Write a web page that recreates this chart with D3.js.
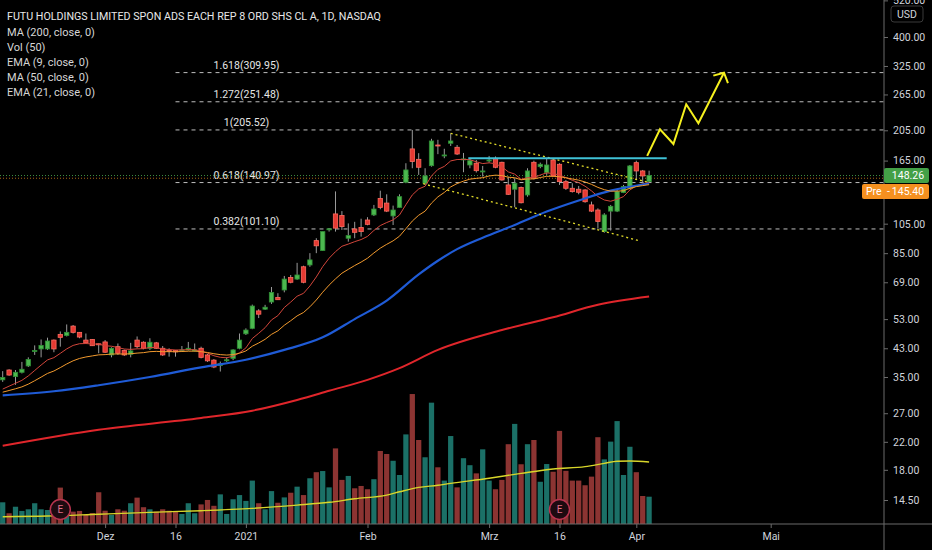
<!DOCTYPE html>
<html>
<head>
<meta charset="utf-8">
<script src="https://cdn.jsdelivr.net/npm/d3@7"></script>
<style>
  html, body { margin: 0; padding: 0; background: #000; }
  svg { display: block; }
  text { font-family: Roboto, "Liberation Sans", Arial, sans-serif; }
</style>
</head>
<body>
<svg width="932" height="550"></svg>
<script>
// daily bars, 2020-11-06 .. 2021-04-06
const open = [34.3, 36.8, 35.1, 36.2, 37.9, 42.0, 42.8, 42.8, 45.6, 47.5,
  47.1, 50.4, 48.2, 45.6, 45.8, 44.4, 45.0, 41.0, 43.5, 42.3,
  41.2, 45.6, 44.9, 43.0, 44.7, 43.0, 42.3, 42.3, 42.4, 42.5,
  42.4, 43.0, 41.0, 39.5, 38.0, 39.5, 40.0, 43.0, 47.7, 49.6,
  56.2, 56.9, 59.9, 61.9, 65.3, 71.4, 70.6, 77.1, 78.1, 93.0,
  86.6, 100.5, 112.6, 111.3, 94.6, 101.1, 102.2, 107.8, 111.8, 125.8,
  121.7, 111.0, 118.0, 141.3, 179.4, 166.5, 140.3, 159.1, 184.5, 170.6,
  186.8, 181.5, 166.0, 159.9, 161.9, 152.1, 164.9, 167.7, 163.0, 138.6,
  134.4, 136.0, 129.0, 163.0, 158.0, 151.5, 165.7, 160.7, 141.9, 135.3,
  134.4, 133.7, 120.1, 115.8, 99.2, 114.9, 114.9, 131.2, 135.3, 162.6,
  153.2, 141.9];
const high = [36.5, 37.0, 36.8, 39.0, 40.3, 43.9, 45.8, 46.4, 45.8, 48.5,
  51.0, 50.8, 48.3, 47.8, 45.9, 44.5, 45.6, 43.3, 44.5, 42.6,
  44.7, 46.8, 45.2, 46.2, 45.0, 43.7, 43.0, 42.5, 43.7, 45.0,
  44.5, 43.5, 41.3, 39.8, 39.1, 40.3, 42.7, 47.8, 49.6, 58.8,
  56.9, 58.7, 66.7, 63.8, 72.2, 72.7, 79.3, 77.7, 85.0, 94.6,
  99.2, 101.7, 132.3, 114.9, 105.2, 106.4, 108.8, 110.0, 120.1, 133.0,
  129.6, 119.5, 129.6, 161.9, 205.5, 174.0, 156.2, 192.9, 191.5, 179.6,
  200.6, 184.5, 174.3, 167.7, 165.7, 158.8, 170.6, 170.0, 163.7, 147.1,
  145.4, 137.0, 156.2, 164.9, 162.6, 167.7, 167.7, 161.9, 143.6, 140.3,
  137.6, 134.4, 123.0, 117.2, 113.2, 120.1, 133.7, 138.6, 159.9, 164.9,
  154.3, 153.5];
const low = [33.8, 35.3, 33.1, 35.9, 37.6, 41.0, 40.3, 42.5, 41.8, 43.5,
  46.8, 47.8, 46.2, 44.5, 43.7, 41.5, 41.6, 40.3, 41.0, 40.7,
  40.3, 43.0, 42.7, 42.5, 42.8, 40.7, 40.5, 40.5, 42.0, 42.3,
  42.0, 40.0, 39.0, 37.3, 36.4, 39.0, 39.5, 42.7, 47.3, 49.3,
  53.4, 56.6, 59.1, 60.8, 64.2, 68.5, 70.2, 68.5, 77.1, 85.0,
  86.4, 99.2, 99.2, 100.4, 92.3, 94.6, 95.7, 103.8, 110.9, 116.4,
  114.1, 104.0, 117.7, 140.3, 156.2, 148.9, 138.6, 158.0, 172.8, 167.8,
  183.2, 171.8, 151.8, 156.2, 151.5, 147.1, 162.6, 156.2, 142.9, 129.0,
  118.1, 121.4, 127.4, 144.3, 156.2, 148.9, 147.1, 138.6, 133.7, 131.2,
  129.6, 122.0, 114.1, 101.3, 98.4, 99.9, 114.1, 130.7, 134.4, 144.3,
  140.3, 140.9];
const close = [34.9, 35.5, 36.2, 37.0, 39.7, 42.3, 43.9, 45.3, 42.8, 46.5,
  48.2, 48.2, 46.6, 44.7, 43.8, 44.1, 41.8, 43.0, 41.5, 41.0,
  42.2, 43.5, 43.0, 44.9, 43.0, 41.0, 42.0, 41.9, 42.5, 43.0,
  42.5, 40.3, 39.3, 37.6, 38.5, 39.6, 42.5, 45.6, 49.0, 58.2,
  54.9, 57.7, 64.1, 60.9, 70.6, 69.0, 72.7, 69.0, 81.0, 89.6,
  99.2, 101.2, 101.7, 102.8, 96.4, 98.7, 99.2, 104.5, 116.6, 118.0,
  114.9, 115.8, 127.4, 154.3, 163.9, 157.3, 147.8, 189.9, 183.2, 171.8,
  189.9, 173.0, 167.0, 164.9, 153.5, 153.2, 165.7, 157.3, 143.6, 129.6,
  140.3, 122.0, 153.2, 145.4, 160.7, 159.9, 147.8, 141.9, 135.3, 132.1,
  131.5, 122.9, 114.9, 106.6, 111.8, 118.9, 132.1, 137.0, 158.8, 153.2,
  147.8, 148.26];
// volume, millions of shares
const volume = [9.3, 4.6, 7.4, 5.6, 6.3, 8.9, 6.3, 6.0, 6.9, 15.6,
  7.7, 5.3, 5.6, 3.9, 4.7, 13.6, 5.7, 3.9, 6.3, 5.7,
  8.9, 11.3, 7.2, 6.3, 5.3, 6.3, 5.7, 5.3, 4.3, 8.9,
  4.6, 8.4, 10.3, 7.8, 12.7, 4.3, 10.6, 12.4, 9.9, 18.6,
  8.9, 6.3, 14.1, 9.1, 11.4, 13.4, 16.0, 12.4, 19.6, 22.2,
  22.7, 15.7, 32.4, 18.9, 20.6, 15.3, 16.3, 14.9, 19.2, 31.3,
  30.0, 27.1, 21.0, 38.4, 55.7, 36.0, 28.6, 52.0, 24.3, 18.6,
  37.7, 15.7, 28.2, 25.2, 21.7, 32.0, 18.6, 14.9, 18.9, 34.2,
  42.9, 25.6, 34.2, 36.0, 18.1, 25.7, 22.4, 39.9, 22.8, 18.6,
  18.6, 16.6, 20.3, 37.2, 27.7, 35.3, 44.1, 21.0, 33.1, 22.2,
  12.0, 11.7];

// indicator values read at a few bars [bar, value] (they depend on history left of the chart)
const ma200Points = [[0, 21.4], [15, 24.0], [31, 26.1], [39, 27.5], [46, 29.7], [51, 31.7],
  [57, 34.3], [62, 37.3], [68, 42.5], [78, 49.0], [86, 53.7], [93, 58.7], [101, 62.3]];
const ma50Points = [[0, 30.7], [8, 31.6], [15, 33.0], [23, 35.0], [31, 37.5], [38, 39.6],
  [44, 42.5], [50, 46.5], [55, 53.0], [60, 60.5], [65, 73.0], [68, 80.5], [71, 87.5],
  [75, 95.0], [80, 104.0], [85, 114.5], [90, 124.0], [95, 133.0], [101, 140.0]];
const volMaPoints = [[0, 3.1], [7, 3.4], [15, 4.2], [23, 5.0], [31, 5.7], [39, 6.7], [46, 8.1],
  [51, 9.3], [55, 10.8], [60, 12.4], [62, 13.8], [65, 15.7], [68, 16.6], [70, 17.4], [76, 19.6],
  [81, 21.7], [86, 23.6], [91, 24.6], [94, 26.0], [96, 26.9], [98, 27.0], [101, 26.6]];
const ema9Seed = 32.1, ema21Seed = 31.4;

const fibLevels = ['1.618', '1.272', '1', '0.618', '0.382'];
const fibPrices = [309.95, 251.48, 205.52, 140.97, 101.10];
const fibStartBar = 27;

// drawings [bar, price]
const upperChannel = [[70, 200.6], [100.7, 141.5]];
const lowerChannel = [[65.7, 139.8], [99.6, 92.8]];
const resistance = [[72.75, 167.7], [103.75, 167.7]];
const projection = [[100.7, 170.6], [102.7, 206.5], [104.8, 185.9], [106.8, 247.0], [108.7, 215.6], [112.7, 309.7]];

const earnings = ['2020-11-19', '2021-03-16'];
const lastPrice = 148.26, prePrice = 145.40;

const priceTicks = [14.5, 18, 22, 27, 35, 43, 53, 69, 85, 105, 165, 205, 265, 325, 400, 520];
const timeTickDates = ['2020-12-01', '2020-12-16', '2021-01-04', '2021-02-01', '2021-03-01', '2021-03-16', '2021-04-01', '2021-05-03'];
const timeTickLabels = ['Dez', '16', '2021', 'Feb', 'Mrz', '16', 'Apr', 'Mai'];

const legendRows = ['MA (200, close, 0)', 'Vol (50)', 'EMA (9, close, 0)', 'MA (50, close, 0)', 'EMA (21, close, 0)'];
const title = 'FUTU HOLDINGS LIMITED SPON ADS EACH REP 8 ORD SHS CL A, 1D, NASDAQ';

// ---------------------------------------------------------------
const W = 932, H = 550, axisX = 884, timeAxisY = 524;
const holidays = ['2020-11-26', '2020-12-25', '2021-01-01', '2021-01-18', '2021-02-15', '2021-04-02'];
const fmt = d3.timeFormat('%Y-%m-%d');
const days = d3.timeDay.range(new Date(2020, 10, 6), new Date(2021, 4, 20))
  .filter(d => d.getDay() % 6 !== 0 && !holidays.includes(fmt(d)));
const barOf = new Map(days.map((d, i) => [fmt(d), i]));

const x = d3.scaleLinear().domain([0, 101]).range([2.7, 649.1]);
const y = d3.scaleLog().domain([14.5, 400]).range([500, 37]);
const v = d3.scaleLinear().domain([0, 60]).range([timeAxisY, 384]);
const step = x(1) - x(0);

const bars = open.map((o, i) => ({ i, o, h: high[i], l: low[i], c: close[i], vol: volume[i], up: close[i] >= o }));

const ema = (seed, n) => {
  const k = 2 / (n + 1);
  let e = seed;
  return close.map((c, i) => [i, (e = i === 0 ? seed : e + k * (c - e))]);
};

const svg = d3.select('svg');
svg.append('rect').attr('width', W).attr('height', H).attr('fill', '#000');

svg.append('defs').append('marker')
  .attr('id', 'arrow')
  .attr('viewBox', '-10 -10 20 20')
  .attr('markerWidth', 20)
  .attr('markerHeight', 20)
  .attr('markerUnits', 'userSpaceOnUse')
  .attr('orient', 'auto')
  .append('path')
    .attr('d', 'M-7.4,-8.2L0,0L-7.4,8.2')
    .attr('fill', 'none')
    .attr('stroke', '#f5f01e')
    .attr('stroke-width', 2);

const plot = svg.append('g').attr('class', 'plot');

// fib levels
const fib = plot.append('g').attr('class', 'fib');
fib.selectAll('line')
  .data(fibPrices)
  .join('line')
    .attr('x1', x(fibStartBar))
    .attr('x2', axisX)
    .attr('y1', d => y(d))
    .attr('y2', d => y(d))
    .attr('stroke', '#bdbdbd')
    .attr('stroke-width', 1)
    .attr('stroke-dasharray', '4,4');
fib.selectAll('text')
  .data(fibPrices)
  .join('text')
    .attr('x', x(fibStartBar) + 71)
    .attr('y', d => y(d) - 4)
    .attr('text-anchor', 'middle')
    .attr('fill', '#e6e6e6')
    .style('font-size', '10.5px')
    .text((d, i) => `${fibLevels[i]}(${d.toFixed(2)})`);

// last / pre-market price lines
plot.append('line')
  .attr('x1', 0).attr('x2', axisX)
  .attr('y1', y(lastPrice)).attr('y2', y(lastPrice))
  .attr('stroke', '#3d8f40').attr('stroke-dasharray', '1,2');
plot.append('line')
  .attr('x1', 0).attr('x2', axisX)
  .attr('y1', y(prePrice)).attr('y2', y(prePrice))
  .attr('stroke', '#a8661a').attr('stroke-dasharray', '1,2');

// volume
plot.append('g').attr('class', 'volume')
  .selectAll('rect')
  .data(bars)
  .join('rect')
    .attr('x', d => x(d.i) - step * 0.41)
    .attr('width', step * 0.82)
    .attr('y', d => v(d.vol))
    .attr('height', d => timeAxisY - v(d.vol))
    .attr('fill', d => d.up ? '#1b7067' : '#8c3432');

// candles
const candles = plot.append('g').attr('class', 'candles')
  .selectAll('g')
  .data(bars)
  .join('g');
candles.append('line')
  .attr('x1', d => x(d.i)).attr('x2', d => x(d.i))
  .attr('y1', d => y(d.h)).attr('y2', d => y(d.l))
  .attr('stroke', '#9a9a9a')
  .attr('stroke-width', 1);
candles.append('rect')
  .attr('x', d => x(d.i) - step * 0.34)
  .attr('width', step * 0.68)
  .attr('y', d => y(Math.max(d.o, d.c)))
  .attr('height', d => Math.max(1, Math.abs(y(d.o) - y(d.c))))
  .attr('fill', d => d.up ? '#4cb84f' : '#e53a33')
  .attr('stroke', d => d.up ? '#2f8f35' : '#ff6a5e')
  .attr('stroke-width', 0.8);

// moving averages
const smooth = d3.line().x(d => x(d[0])).y(d => y(d[1])).curve(d3.curveMonotoneX);
const straight = d3.line().x(d => x(d[0])).y(d => y(d[1]));
const lines = [
  { pts: ma200Points, gen: smooth, color: '#e0262b', w: 2 },
  { pts: ema(ema9Seed, 9), gen: straight, color: '#d2463b', w: 1 },
  { pts: ma50Points, gen: smooth, color: '#1f5bd6', w: 2.2 },
  { pts: ema(ema21Seed, 21), gen: straight, color: '#f29a2e', w: 1 }
];
plot.append('g').attr('class', 'mas')
  .selectAll('path')
  .data(lines)
  .join('path')
    .attr('d', d => d.gen(d.pts))
    .attr('fill', 'none')
    .attr('stroke', d => d.color)
    .attr('stroke-width', d => d.w);

plot.append('path')
  .attr('d', d3.line().x(d => x(d[0])).y(d => v(d[1])).curve(d3.curveMonotoneX)(volMaPoints))
  .attr('fill', 'none')
  .attr('stroke', '#d8d62a')
  .attr('stroke-width', 1.4);

// drawings
const draw = plot.append('g').attr('class', 'drawings');
draw.selectAll('.channel')
  .data([upperChannel, lowerChannel])
  .join('path')
    .attr('class', 'channel')
    .attr('d', straight)
    .attr('fill', 'none')
    .attr('stroke', '#e3dc2a')
    .attr('stroke-width', 1.3)
    .attr('stroke-dasharray', '2,3');
draw.append('path')
  .attr('d', straight(resistance))
  .attr('fill', 'none')
  .attr('stroke', '#3fc1d6')
  .attr('stroke-width', 2);
draw.append('path')
  .attr('d', straight(projection))
  .attr('fill', 'none')
  .attr('stroke', '#f5f01e')
  .attr('stroke-width', 2)
  .attr('stroke-linejoin', 'miter')
  .attr('marker-end', 'url(#arrow)');

// earnings badges
const badges = plot.append('g').attr('class', 'earnings')
  .selectAll('g')
  .data(earnings)
  .join('g')
    .attr('transform', d => `translate(${x(barOf.get(d))},509.5)`);
badges.append('circle')
  .attr('r', 10)
  .attr('fill', '#1e0a10')
  .attr('stroke', '#b8344f')
  .attr('stroke-width', 1.5);
badges.append('text')
  .attr('text-anchor', 'middle')
  .attr('dy', '0.36em')
  .attr('fill', '#e0708a')
  .style('font-size', '10px')
  .text('E');

// time axis
svg.append('line')
  .attr('x1', 0).attr('x2', W)
  .attr('y1', timeAxisY).attr('y2', timeAxisY)
  .attr('stroke', '#6b6b6b');
const xAxis = svg.append('g')
  .attr('transform', `translate(0,${timeAxisY})`)
  .call(d3.axisBottom(x)
    .tickValues(timeTickDates.map(d => barOf.get(d)))
    .tickFormat((d, i) => timeTickLabels[i])
    .tickSize(4)
    .tickPadding(5));
xAxis.select('.domain').remove();
xAxis.selectAll('line').attr('stroke', '#6b6b6b');
xAxis.selectAll('text').attr('fill', '#d1d4dc').style('font-size', '10.5px')
  .style('font-family', 'Roboto, "Liberation Sans", Arial, sans-serif');

// price axis
svg.append('line')
  .attr('x1', axisX).attr('x2', axisX)
  .attr('y1', 0).attr('y2', H)
  .attr('stroke', '#6b6b6b');
const yAxis = svg.append('g')
  .attr('transform', `translate(${axisX},0)`)
  .call(d3.axisRight(y)
    .tickValues(priceTicks)
    .tickFormat(d3.format('.2f'))
    .tickSize(4)
    .tickPadding(5));
yAxis.select('.domain').remove();
yAxis.selectAll('line').attr('stroke', '#6b6b6b');
yAxis.selectAll('text').attr('fill', '#d1d4dc').style('font-size', '10.5px')
  .style('font-family', 'Roboto, "Liberation Sans", Arial, sans-serif');

// currency badge
svg.append('rect')
  .attr('x', 891).attr('y', 6).attr('width', 32).attr('height', 16).attr('rx', 3)
  .attr('fill', '#000').attr('stroke', '#3a3a3a');
svg.append('text')
  .attr('x', 907).attr('y', 14).attr('dy', '0.35em')
  .attr('text-anchor', 'middle').attr('fill', '#d1d4dc')
  .style('font-size', '10.5px').text('USD');

// price labels
const ly = y(lastPrice);
svg.append('rect')
  .attr('x', axisX).attr('y', ly - 7.5).attr('width', 45).attr('height', 15).attr('rx', 2)
  .attr('fill', '#43a047');
svg.append('text')
  .attr('x', axisX + 24).attr('y', ly).attr('dy', '0.35em')
  .attr('text-anchor', 'middle').attr('fill', '#fff')
  .style('font-size', '10.5px').text(lastPrice.toFixed(2));
const py = ly + 16;
svg.append('rect')
  .attr('x', 862).attr('y', py - 7.5).attr('width', 67).attr('height', 15).attr('rx', 2)
  .attr('fill', '#f5901f');
svg.append('text')
  .attr('x', 866).attr('y', py).attr('dy', '0.35em')
  .attr('fill', '#fff').style('font-size', '10.5px').text('Pre');
svg.append('text')
  .attr('x', 887).attr('y', py).attr('dy', '0.35em')
  .attr('fill', '#fff').style('font-size', '10.5px').text('-');
svg.append('text')
  .attr('x', axisX + 24).attr('y', py).attr('dy', '0.35em')
  .attr('text-anchor', 'middle').attr('fill', '#fff')
  .style('font-size', '10.5px').text(prePrice.toFixed(2));

// legend
const legend = svg.append('g').attr('class', 'legend');
legend.append('text')
  .attr('x', 7).attr('y', 20)
  .attr('fill', '#e8e8e8')
  .style('font-size', '10.7px')
  .text(title);
legend.selectAll('.row')
  .data(legendRows)
  .join('text')
    .attr('class', 'row')
    .attr('x', 7)
    .attr('y', (d, i) => 36 + i * 15)
    .attr('fill', '#d6d6d6')
    .style('font-size', '11px')
    .text(d => d);
</script>
</body>
</html>
